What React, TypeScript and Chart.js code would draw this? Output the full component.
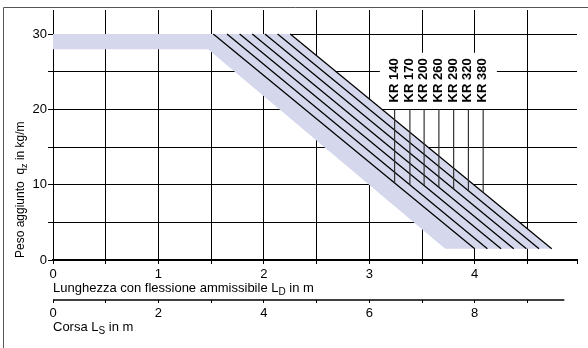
import React, { useEffect, useRef } from 'react';
import { Chart, registerables } from 'chart.js';

Chart.register(...registerables);

// ---- data ----
const seriesNames = ['KR 140', 'KR 170', 'KR 200', 'KR 260', 'KR 290', 'KR 320', 'KR 380'];
const lineTopX = [1.52, 1.65, 1.77, 1.89, 2.01, 2.13, 2.25];
const lineBottomX = [4.0, 4.12, 4.25, 4.37, 4.49, 4.61, 4.73];
const lineTopY = 30;
const lineBottomY = 1.5;
const leaderX = [3.24, 3.385, 3.52, 3.66, 3.8, 3.94, 4.08];
const leaderBottomY = [10.2, 10.0, 9.9, 9.7, 9.4, 9.2, 9.0];
const leaderTopY = 20;
const bandX = [0, 2.25, 4.73, 3.72, 1.47, 0, 0];
const bandY = [30, 30, 1.5, 1.5, 28, 28, 30];

const xMax = 4.97; // Lunghezza L_D (m)
const yMax = 33.2; // kg/m
const corsaFactor = 2; // Corsa L_S = 2 * L_D
const corsaAxisEnd = 9.7;
const xLabelEvery = 1;
const yLabelEvery = 10;
const corsaLabelEvery = 2;

// decoration (label box and interrupted grid lines)
const labelBoxX = [3.1, 4.21];
const labelBoxY = [20, 27.5];
const hiddenGridX = [3.5, 4];
const gridResumeY = [15.6, 9.9];

const FONT = '"Liberation Sans", Arial, Helvetica, sans-serif';
const BAND = '#d5d8ec';

const isMult = (v: number, m: number) => Math.abs(v / m - Math.round(v / m)) < 1e-6;

function drawRich(ctx: CanvasRenderingContext2D, parts: [string, boolean][], x: number, y: number, size: number) {
  let cx = x;
  for (const [t, sub] of parts) {
    ctx.font = `${sub ? Math.round(size * 0.78) : size}px ${FONT}`;
    ctx.fillText(t, cx, sub ? y + 3 : y);
    cx += ctx.measureText(t).width;
  }
}

const decor = {
  id: 'decor',
  beforeDraw(chart: any) {
    const ctx = chart.ctx;
    ctx.save();
    ctx.strokeStyle = '#555';
    ctx.lineWidth = 1;
    ctx.beginPath();
    ctx.moveTo(3.5, 348);
    ctx.lineTo(3.5, 7.5);
    ctx.lineTo(588, 7.5);
    ctx.stroke();
    ctx.restore();
  },
  beforeDatasetsDraw(chart: any) {
    const ctx = chart.ctx;
    const xs = chart.scales.x;
    const ys = chart.scales.y;
    ctx.save();
    // grid segments interrupted by the label block
    ctx.strokeStyle = '#000';
    ctx.lineWidth = 1;
    hiddenGridX.forEach((gx, i) => {
      const px = Math.round(xs.getPixelForValue(gx) - 0.5) + 0.5;
      ctx.beginPath();
      ctx.moveTo(px, chart.chartArea.top);
      ctx.lineTo(px, ys.getPixelForValue(labelBoxY[1]));
      ctx.moveTo(px, ys.getPixelForValue(gridResumeY[i]));
      ctx.lineTo(px, chart.chartArea.bottom);
      ctx.stroke();
    });
    // white label block
    const l = xs.getPixelForValue(labelBoxX[0]);
    const r = xs.getPixelForValue(labelBoxX[1]);
    const t = ys.getPixelForValue(labelBoxY[1]);
    const b = Math.round(ys.getPixelForValue(labelBoxY[0])) - 1;
    ctx.fillStyle = '#fff';
    ctx.fillRect(l, t, r - l, b - t);
    ctx.restore();
  },
  afterDraw(chart: any) {
    const ctx = chart.ctx;
    const xs = chart.scales.x;
    const x2 = chart.scales.x2;
    const ys = chart.scales.y;
    ctx.save();
    ctx.fillStyle = '#000';
    ctx.textAlign = 'left';
    ctx.textBaseline = 'alphabetic';
    // second (Corsa) axis line
    ctx.strokeStyle = '#000';
    ctx.lineWidth = 1.5;
    ctx.beginPath();
    ctx.moveTo(x2.getPixelForValue(0), x2.top);
    ctx.lineTo(x2.getPixelForValue(corsaAxisEnd), x2.top);
    ctx.stroke();
    // axis titles
    drawRich(ctx, [['Lunghezza con flessione ammissibile L', false], ['D', true], [' in m', false]], chart.chartArea.left, xs.top + 32, 13);
    drawRich(ctx, [['Corsa L', false], ['S', true], [' in m', false]], chart.chartArea.left, x2.top + 31, 13);
    ctx.save();
    ctx.translate(24, chart.chartArea.bottom - 2);
    ctx.rotate(-Math.PI / 2);
    drawRich(ctx, [['Peso aggiunto  q', false], ['z', true], [' in kg/m', false]], 0, 0, 12);
    ctx.restore();
    // series labels
    ctx.font = `bold 13px ${FONT}`;
    seriesNames.forEach((name, i) => {
      const px = xs.getPixelForValue(leaderX[i]) + 3;
      const py = ys.getPixelForValue(leaderTopY) - 7;
      ctx.save();
      ctx.translate(px, py);
      ctx.rotate(-Math.PI / 2);
      ctx.fillText(name, 0, 0);
      ctx.restore();
    });
    ctx.restore();
  },
};

export default function App() {
  const ref = useRef<HTMLCanvasElement | null>(null);
  useEffect(() => {
    if (!ref.current) return;
    Chart.defaults.font.family = FONT;
    const datasets: any[] = [];
    datasets.push({
      label: 'band',
      data: bandX.map((x, i) => ({ x, y: bandY[i] })),
      showLine: true,
      fill: 'shape',
      backgroundColor: BAND,
      borderColor: 'rgba(0,0,0,0)',
      borderWidth: 1,
      pointRadius: 0,
      order: 10,
    });
    seriesNames.forEach((name, i) => {
      datasets.push({
        label: name,
        data: [
          { x: lineTopX[i], y: lineTopY },
          { x: lineBottomX[i], y: lineBottomY },
        ],
        showLine: true,
        fill: false,
        borderColor: '#000',
        borderWidth: 1.3,
        pointRadius: 0,
        order: 5,
      });
    });
    seriesNames.forEach((name, i) => {
      datasets.push({
        label: name + ' leader',
        data: [
          { x: leaderX[i], y: leaderBottomY[i] },
          { x: leaderX[i], y: leaderTopY },
        ],
        showLine: true,
        fill: false,
        borderColor: '#333',
        borderWidth: 1.2,
        pointRadius: 0,
        order: 1,
      });
    });
    const chart = new Chart(ref.current, {
      type: 'scatter',
      data: { datasets },
      options: {
        animation: false,
        responsive: false,
        events: [],
        layout: { padding: { left: 0, top: 10, right: 11, bottom: 0 } },
        plugins: { legend: { display: false }, tooltip: { enabled: false } },
        scales: {
          x: {
            type: 'linear',
            position: 'bottom',
            weight: 0,
            min: 0,
            max: xMax,
            afterFit: (s: any) => { s.height = 40; },
            ticks: {
              stepSize: 0.5,
              autoSkip: false,
              maxRotation: 0,
              padding: 3,
              color: '#000',
              font: { size: 13, family: FONT },
              callback: (v: any) => (isMult(Number(v), xLabelEvery) ? String(Math.round(Number(v))) : ''),
            },
            grid: {
              color: (c: any) => {
                const v = c.tick ? c.tick.value : 0;
                if (!isMult(v, 0.5)) return 'rgba(0,0,0,0)';
                if (hiddenGridX.some((h) => Math.abs(h - v) < 1e-6)) return 'rgba(0,0,0,0)';
                return '#000';
              },
              tickColor: '#000',
              tickLength: 4,
              lineWidth: 1,
            },
            border: { color: '#000', width: 2 },
          },
          x2: {
            type: 'linear',
            position: 'bottom',
            weight: 1,
            min: 0,
            max: xMax * corsaFactor,
            afterFit: (s: any) => { s.height = 48; },
            ticks: {
              stepSize: 1,
              includeBounds: false,
              autoSkip: false,
              maxRotation: 0,
              padding: 3,
              color: '#000',
              font: { size: 13, family: FONT },
              callback: (v: any) => (isMult(Number(v), corsaLabelEvery) ? String(Math.round(Number(v))) : ''),
            },
            grid: { drawOnChartArea: false, tickLength: 3, color: '#000', tickColor: '#000', lineWidth: 1 },
            border: { display: false },
          },
          y: {
            type: 'linear',
            min: 0,
            max: yMax,
            afterFit: (s: any) => { s.width = 53; },
            ticks: {
              stepSize: 5,
              includeBounds: false,
              padding: 1,
              color: '#000',
              font: { size: 13, family: FONT },
              callback: (v: any) => (isMult(Number(v), yLabelEvery) ? String(Math.round(Number(v))) : ''),
            },
            grid: { color: '#000', tickColor: '#000', tickLength: 5, lineWidth: 1 },
            border: { color: '#000', width: 1 },
          },
        },
      } as any,
      plugins: [decor],
    });
    return () => chart.destroy();
  }, []);
  return (
    <div style={{ position: 'fixed', left: 0, top: 0, width: 588, height: 348, background: '#fff' }}>
      <canvas ref={ref} width={588} height={348} style={{ display: 'block', width: 588, height: 348 }} />
    </div>
  );
}
